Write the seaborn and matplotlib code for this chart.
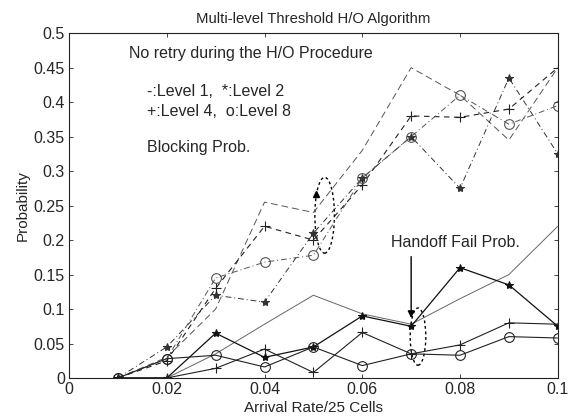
import pandas as pd
import matplotlib.pyplot as plt
import seaborn as sns
from matplotlib.patches import Ellipse

# arrival rate per cell
arrival = [0.01, 0.02, 0.03, 0.04, 0.05, 0.06, 0.07, 0.08, 0.09, 0.10]

# blocking probability (dashed curves)
block_l1 = [0.0, 0.030, 0.100, 0.255, 0.240, 0.330, 0.450, 0.410, 0.345, 0.450]
block_l2 = [0.0, 0.045, 0.120, 0.110, 0.210, 0.290, 0.350, 0.275, 0.435, 0.325]
block_l4 = [0.0, 0.025, 0.130, 0.220, 0.200, 0.280, 0.380, 0.378, 0.390, 0.450]
block_l8 = [0.0, 0.028, 0.145, 0.168, 0.178, 0.290, 0.350, 0.410, 0.368, 0.395]

# handoff failure probability (solid curves)
fail_l1 = [0.0, 0.0, 0.035, 0.078, 0.120, 0.093, 0.078, 0.115, 0.150, 0.220]
fail_l2 = [0.0, 0.0, 0.065, 0.030, 0.045, 0.090, 0.075, 0.160, 0.135, 0.075]
fail_l4 = [0.0, 0.0, 0.014, 0.042, 0.008, 0.066, 0.035, 0.048, 0.080, 0.078]
fail_l8 = [0.0, 0.028, 0.033, 0.016, 0.045, 0.018, 0.035, 0.033, 0.060, 0.058]

x_ticks = [0, 0.02, 0.04, 0.06, 0.08, 0.1]
x_tick_labels = ["0", "0.02", "0.04", "0.06", "0.08", "0.1"]
y_ticks = [0, 0.05, 0.1, 0.15, 0.2, 0.25, 0.3, 0.35, 0.4, 0.45, 0.5]
y_tick_labels = ["0", "0.05", "0.1", "0.15", "0.2", "0.25", "0.3", "0.35", "0.4", "0.45", "0.5"]

sns.set_style("ticks")
plt.rcParams["font.family"] = ["Liberation Sans", "DejaVu Sans"]

fig = plt.figure(figsize=(5.68, 4.2), dpi=100)
ax = fig.add_axes([0.1215, 0.1, 0.8605, 0.821])

# (values, marker, marker size, dashes, colour, width)
series = [
    (block_l1, None, 0, (7, 4), "#555555", 0.7),
    (block_l2, "*", 6, (6, 3, 1, 3), "#333333", 0.7),
    (block_l4, "+", 7, (5, 4), "#222222", 0.8),
    (block_l8, "o", 7, (6, 3, 1, 3), "#555555", 0.7),
    (fail_l1, None, 0, (1, 0), "#666666", 0.7),
    (fail_l2, "*", 6, (1, 0), "#111111", 0.9),
    (fail_l4, "+", 7, (1, 0), "#222222", 0.8),
    (fail_l8, "o", 7, (1, 0), "#222222", 0.8),
]

for values, marker, msize, dashes, color, lw in series:
    sns.lineplot(x=arrival, y=values, ax=ax, color=color, linewidth=lw,
                 marker=marker, markersize=msize,
                 markerfacecolor="none" if marker == "o" else color,
                 markeredgecolor=color, markeredgewidth=0.8, dashes=dashes)

# stray filled triangle inside the blocking ellipse
ax.plot([0.0505], [0.267], marker="^", color="k", markersize=5, linestyle="none")

ax.add_patch(Ellipse((0.0523, 0.236), 0.004, 0.11, fill=False, linestyle=(0, (2, 2)),
                     linewidth=1.0, color="k"))
ax.add_patch(Ellipse((0.0714, 0.06), 0.0032, 0.083, fill=False, linestyle=(0, (2, 2)),
                     linewidth=1.0, color="k"))
ax.annotate("", xy=(0.0700, 0.083), xytext=(0.0700, 0.180),
            arrowprops=dict(arrowstyle="-|>", color="k", lw=1.0, mutation_scale=10))

fs = 11.5
ax.text(0.0123, 0.47, "No retry during the H/O Procedure", fontsize=fs, va="center")
ax.text(0.016, 0.416, "-:Level 1,  *:Level 2", fontsize=fs, va="center")
ax.text(0.016, 0.386, "+:Level 4,  o:Level 8", fontsize=fs, va="center")
ax.text(0.016, 0.334, "Blocking Prob.", fontsize=fs, va="center")
ax.text(0.0658, 0.196, "Handoff Fail Prob.", fontsize=fs, va="center")

ax.set_xlim(0, 0.1)
ax.set_ylim(0, 0.5)
ax.set_xticks(x_ticks)
ax.set_xticklabels(x_tick_labels)
ax.set_yticks(y_ticks)
ax.set_yticklabels(y_tick_labels)
ax.tick_params(direction="in", top=True, right=True, labelsize=11.5, length=3, width=0.6,
               pad=3)
for spine in ax.spines.values():
    spine.set_linewidth(0.8)
    spine.set_color("#222222")

ax.set_title("Multi-level Threshold H/O Algorithm", fontsize=10.7, pad=7)
ax.set_xlabel("Arrival Rate/25 Cells", fontsize=11, labelpad=3)
ax.set_ylabel("Probability", fontsize=11, labelpad=3)

plt.savefig("out.png", dpi=100)
plt.close()
